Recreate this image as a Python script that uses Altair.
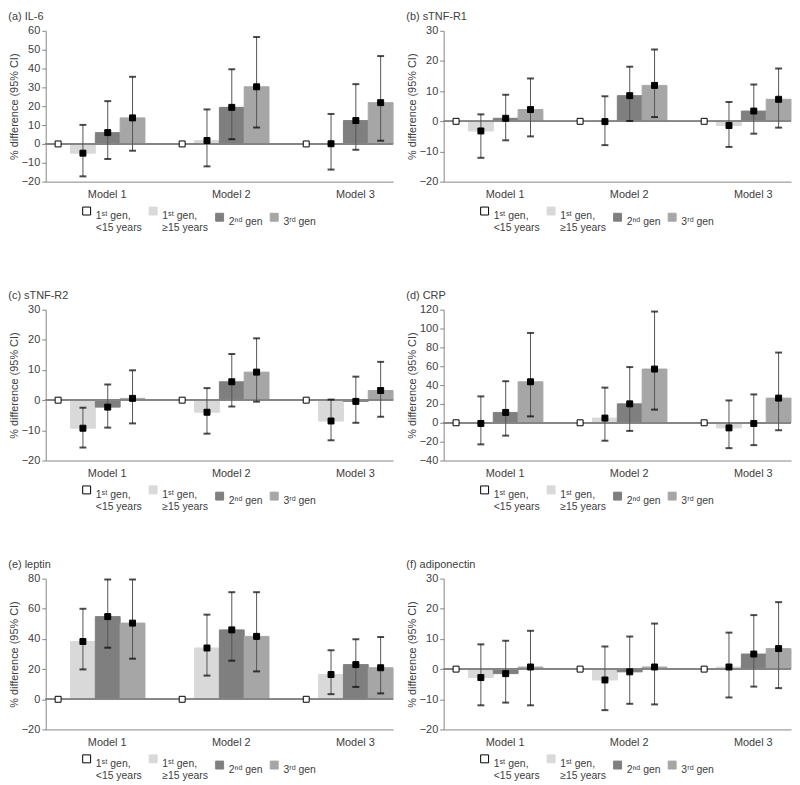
import altair as alt
import pandas as pd

MODELS = ["Model 1", "Model 2", "Model 3"]
GROUPS = ["1ˢᵗ gen, <15 years", "1ˢᵗ gen, ≥15 years", "2ⁿᵈ gen", "3ʳᵈ gen"]
FILLS = ["#ffffff", "#d9d9d9", "#7f7f7f", "#a6a6a6"]
STROKES = ["#000000", "#d9d9d9", "#7f7f7f", "#a6a6a6"]

TITLES = ["(a) IL-6", "(b) sTNF-R1", "(c) sTNF-R2", "(d) CRP", "(e) leptin", "(f) adiponectin"]
Y_RANGES = [(-20, 60, 10), (-20, 30, 10), (-20, 30, 10), (-40, 120, 20), (-20, 80, 20), (-20, 30, 10)]

# values listed Model 1 (g2, g3, g4), Model 2 (...), Model 3 (...); reference group = 0
IL6_EST = [-4.9, 6.0, 13.8, 1.8, 19.4, 30.3, 0.1, 12.4, 21.9]
IL6_LO = [-17.2, -8.0, -3.6, -11.9, 2.5, 8.7, -13.6, -3.1, 1.7]
IL6_HI = [10.1, 22.7, 35.6, 18.3, 39.6, 56.7, 15.9, 31.7, 46.6]

R1_EST = [-3.2, 1.0, 3.9, -0.1, 8.5, 11.9, -1.4, 3.4, 7.3]
R1_LO = [-12.1, -6.3, -5.0, -7.9, 0.1, 1.4, -8.5, -4.1, -2.1]
R1_HI = [2.3, 8.8, 14.2, 8.3, 18.1, 23.8, 6.4, 12.2, 17.5]

R2_EST = [-9.3, -2.3, 0.6, -4.0, 6.1, 9.3, -6.9, -0.4, 3.2]
R2_LO = [-15.7, -9.1, -7.7, -11.1, -2.1, -0.5, -13.3, -7.5, -5.5]
R2_HI = [-2.5, 5.2, 9.9, 4.0, 15.3, 20.5, 0.2, 7.8, 12.7]

CRP_EST = [-0.7, 11.0, 43.5, 5.0, 20.1, 57.0, -5.4, -0.7, 26.2]
CRP_LO = [-22.9, -13.6, 6.8, -19.0, -8.6, 14.0, -26.9, -23.7, -7.9]
CRP_HI = [28.0, 44.1, 95.3, 37.3, 59.1, 118.0, 23.7, 30.1, 74.5]

LEP_EST = [38.3, 54.8, 50.5, 34.0, 46.0, 41.7, 16.4, 23.0, 20.9]
LEP_LO = [19.8, 34.2, 26.9, 15.7, 25.6, 18.5, 3.4, 8.2, 3.9]
LEP_HI = [60.0, 79.4, 79.4, 56.1, 71.0, 71.0, 32.5, 39.8, 41.3]

ADI_EST = [-2.8, -1.5, 0.7, -3.6, -0.9, 0.7, 0.7, 5.0, 6.8]
ADI_LO = [-12.0, -11.1, -12.0, -13.6, -11.5, -11.7, -9.4, -5.8, -6.3]
ADI_HI = [8.2, 9.4, 12.7, 7.5, 10.8, 15.1, 12.1, 17.9, 22.2]

PANEL_DATA = [
    (IL6_EST, IL6_LO, IL6_HI),
    (R1_EST, R1_LO, R1_HI),
    (R2_EST, R2_LO, R2_HI),
    (CRP_EST, CRP_LO, CRP_HI),
    (LEP_EST, LEP_LO, LEP_HI),
    (ADI_EST, ADI_LO, ADI_HI),
]

W = 350
H = 152
TEXT = "#404040"
AXC = "#868686"


def make_panel(title, est, lo, hi, yr):
    ymin, ymax, step = yr
    rows = []
    for mi, m in enumerate(MODELS):
        rows.append(dict(model=m, group=GROUPS[0], est=0.0, lo=None, hi=None))
        for gi in range(3):
            k = mi * 3 + gi
            rows.append(dict(model=m, group=GROUPS[gi + 1], est=est[k], lo=lo[k], hi=hi[k]))
    df = pd.DataFrame(rows)

    yvals = list(range(ymin, ymax + 1, step))
    yaxis = alt.Axis(
        values=yvals,
        tickCount=len(yvals) + 2,
        title="% difference (95% CI)",
        grid=False,
        tickSize=4,
        labelPadding=2,
        titlePadding=2,
        labelOverlap=False,
    )
    yscale = alt.Scale(domain=[ymin, ymax], nice=False, zero=False)
    x = alt.X(
        "model:N",
        sort=MODELS,
        scale=alt.Scale(paddingInner=0.2, paddingOuter=0),
        axis=alt.Axis(title=None, labelAngle=0, ticks=False, labelOffset=12, labelPadding=7),
    )
    xo = alt.XOffset("group:N", sort=GROUPS, scale=alt.Scale(domain=GROUPS, paddingInner=0, paddingOuter=0))

    leg = alt.Legend(
        title=None,
        orient="none",
        legendX=36,
        legendY=H + 24,
        direction="horizontal",
        columns=4,
        symbolType="square",
        symbolSize=64,
        symbolStrokeWidth=1,
        labelExpr="split(replace(datum.label, ', ', ',|'), '|')",
        labelFontSize=10.5,
        labelColor=TEXT,
        labelBaseline="top",
        labelOffset=4,
        columnPadding=5,
    )

    base = alt.Chart(df)
    bars = base.transform_filter(alt.datum.group != GROUPS[0]).mark_bar(strokeWidth=1).encode(
        x=x,
        xOffset=xo,
        y=alt.Y("est:Q", scale=yscale, axis=yaxis),
        fill=alt.Fill("group:N", scale=alt.Scale(domain=GROUPS, range=FILLS), legend=leg),
        stroke=alt.Stroke("group:N", scale=alt.Scale(domain=GROUPS, range=STROKES), legend=leg),
    )
    zero = base.mark_rule(color=AXC, strokeWidth=1).encode(y=alt.datum(0))
    ebase = base.transform_filter(alt.datum.group != GROUPS[0])
    err = ebase.mark_rule(color="#555555", strokeWidth=1).encode(
        x=x, xOffset=xo, y=alt.Y("lo:Q", scale=yscale), y2="hi:Q"
    )
    cap_lo = ebase.mark_tick(color="black", size=7, thickness=2).encode(
        x=x, xOffset=xo, y=alt.Y("lo:Q", scale=yscale)
    )
    cap_hi = ebase.mark_tick(color="black", size=7, thickness=2).encode(
        x=x, xOffset=xo, y=alt.Y("hi:Q", scale=yscale)
    )
    pts = base.mark_square(size=36, opacity=1, strokeWidth=1, stroke="black").encode(
        x=x,
        xOffset=xo,
        y=alt.Y("est:Q", scale=yscale),
        fill=alt.condition(alt.datum.group == GROUPS[0], alt.value("white"), alt.value("black")),
    )
    return alt.layer(bars, zero, err, cap_lo, cap_hi, pts).properties(
        width=W,
        height=H,
        title=alt.TitleParams(
            title, anchor="start", frame="bounds", fontSize=11, fontWeight="normal", color=TEXT, offset=3
        ),
    )


panels = [make_panel(TITLES[i], *PANEL_DATA[i], Y_RANGES[i]) for i in range(6)]

rows = []
for r in range(3):
    rows.append(
        alt.hconcat(panels[2 * r], panels[2 * r + 1], spacing=12)
        .resolve_scale(fill="independent", stroke="independent", y="independent")
        .resolve_legend(fill="independent", stroke="independent")
    )

top = (
    alt.vconcat(rows[0], rows[1], spacing=56)
    .resolve_scale(fill="independent", stroke="independent")
    .resolve_legend(fill="independent", stroke="independent")
)

chart = (
    alt.vconcat(top, rows[2], spacing=46)
    .resolve_scale(fill="independent", stroke="independent")
    .resolve_legend(fill="independent", stroke="independent")
    .properties(padding={"left": 0, "top": 0, "right": 0, "bottom": 0})
    .configure(font="Liberation Sans")
    .configure_view(stroke=None)
    .configure_axis(
        labelFontSize=11,
        labelColor=TEXT,
        titleFontSize=11,
        titleFontWeight="normal",
        titleColor=TEXT,
        domainColor=AXC,
        tickColor=AXC,
    )
)

chart.save("out.html", embed_options={"renderer": "svg", "actions": False})
